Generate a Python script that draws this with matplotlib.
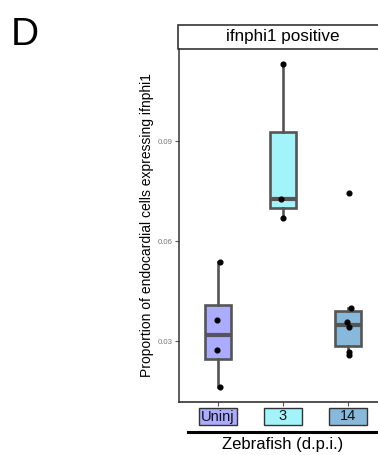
import matplotlib.pyplot as plt
from matplotlib.patches import Rectangle
from matplotlib.lines import Line2D

plt.rcParams['font.family'] = ['Liberation Sans', 'DejaVu Sans']

# data
groups = ["Uninj", "3", "14"]
uninj = [0.0537, 0.0364, 0.0272, 0.0163]
dpi3 = [0.113, 0.0726, 0.067]
dpi14 = [0.0745, 0.040, 0.0357, 0.0342, 0.0266, 0.0258]
# horizontal jitter of the dots (fixed)
jit_uninj = [0.035, -0.015, -0.015, 0.035]
jit_3 = [0.005, -0.03, 0.0]
jit_14 = [0.023, 0.04, -0.023, 0.012, 0.012, 0.008]
yticks = [0.03, 0.06, 0.09]

fills = ["#ababff", "#a2f3fa", "#89b9da"]
edge = "#555555"

W, H = 378, 455
fig = plt.figure(figsize=(W / 100, H / 100), dpi=100)

# panel in pixels: left 179, top 49, bottom 402, right 387 (cut by the figure)
ax = fig.add_axes([179 / W, 1 - 402 / H, (387 - 179) / W, (402 - 49) / H])

data = [uninj, dpi3, dpi14]
jits = [jit_uninj, jit_3, jit_14]
pos = [1, 2, 3]

bp = ax.boxplot(data, positions=pos, widths=0.41, whis=1.5, showfliers=False,
                patch_artist=True, showcaps=False,
                boxprops=dict(edgecolor=edge, linewidth=1.9),
                whiskerprops=dict(color=edge, linewidth=1.9),
                medianprops=dict(color=edge, linewidth=3.0, solid_capstyle="butt"))
for patch, c in zip(bp["boxes"], fills):
    patch.set_facecolor(c)

for p, vals, jit in zip(pos, data, jits):
    ax.plot([p + j for j in jit], vals, "o", color="black", markersize=3.4, zorder=5)

ax.set_xlim(0.4, 3.6)
ax.set_ylim(0.0117, 0.1176)
ax.set_yticks(yticks)
ax.set_yticklabels([f"{t:.2f}" for t in yticks], fontsize=5.6, color="#777777")
ax.tick_params(axis="y", length=3, width=0.8, color="#555555", pad=1.5)
ax.set_xticks(pos)
ax.set_xticklabels([])
ax.tick_params(axis="x", length=3, width=0.8, color="#555555")
for s in ["top", "right"]:
    ax.spines[s].set_visible(False)
ax.spines["left"].set_color("#333333")
ax.spines["bottom"].set_color("#222222")
ax.spines["left"].set_linewidth(1.1)
ax.spines["bottom"].set_linewidth(1.1)

ax.set_ylabel("Proportion of endocardial cells expressing ifnphi1", fontsize=10, labelpad=3)

# coloured boxed x labels
trans = ax.get_xaxis_transform()
hpx = 402 - 49
for p, g, c in zip(pos, groups, fills):
    ax.add_patch(Rectangle((p - 0.285, -(425 - 402) / hpx), 0.57, 17 / hpx,
                           transform=trans, facecolor=c, edgecolor="#333333",
                           linewidth=1.0, clip_on=False))
    ax.text(p, -(416.5 - 402) / hpx, g, transform=trans, ha="center", va="center",
            fontsize=10.5, color="#111111")

# facet strip
ax.add_patch(Rectangle((-1 / 208, 1.0), 1.1, 24 / hpx, transform=ax.transAxes,
                       facecolor="white", edgecolor="#222222", linewidth=1.1,
                       clip_on=False))
ax.text(2.0, 1 + 12.5 / hpx, "ifnphi1 positive", transform=trans, ha="center",
        va="center", fontsize=12.3)

# bracket line and axis title
fig.add_artist(Line2D([188 / W, 1.0], [1 - 432 / H] * 2, color="black", linewidth=2.2))
fig.text(283 / W, 1 - 445 / H, "Zebrafish (d.p.i.)", ha="center", va="center", fontsize=12)

fig.text(11 / W, 1 - 45 / H, "D", fontsize=28, ha="left", va="baseline")

fig.savefig("out.png", dpi=100)
